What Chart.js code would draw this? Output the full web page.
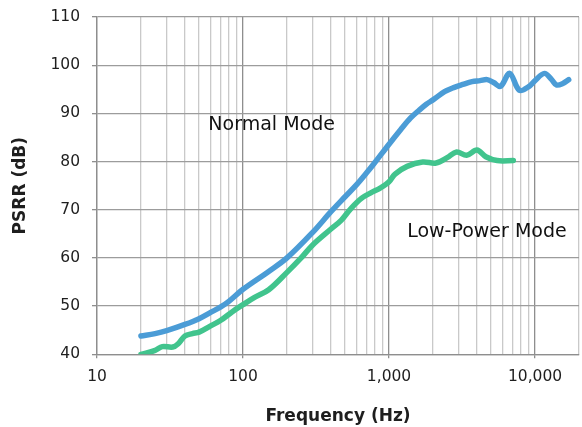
<!DOCTYPE html>
<html>
<head>
<meta charset="utf-8">
<script src="https://cdn.jsdelivr.net/npm/chart.js@4.4.1/dist/chart.umd.min.js"></script>
<style>
	html, body {
		margin: 0;
		padding: 0;
		background: #ffffff;
	}
	#wrap {
		width: 582px;
		height: 427px;
	}
</style>
</head>
<body>
<div id="wrap"><canvas id="psrrChart" width="582" height="427"></canvas></div>
<script>
//////////////////////////////// Data

const normalFreq = [
	20, 25, 30, 40, 50, 60, 70, 80, 100, 150, 200, 300, 400, 500, 600, 700,
	800, 1000, 1200, 1400, 1600, 1800, 2000, 2400, 2800, 3200, 3700, 4200,
	4700, 5200, 5800, 6700, 7800, 9000, 10000, 11600, 13000, 14000, 15500,
	17000,
];
const normalDb = [
	43.8, 44.3, 44.9, 46.2, 47.4, 48.7, 49.8, 51.0, 53.5, 57.2, 60.0, 65.3,
	69.6, 72.7, 75.2, 77.6, 79.8, 83.6, 86.6, 89.0, 90.6, 91.9, 92.8, 94.5,
	95.4, 96.0, 96.6, 96.8, 97.0, 96.4, 95.6, 98.3, 94.8, 95.5, 96.8, 98.3,
	97.0, 95.9, 96.2, 97.0,
];

const lowFreq = [
	20, 25, 28, 33, 36, 40, 45, 50, 60, 70, 85, 100, 120, 150, 200, 250, 300,
	400, 470, 550, 650, 750, 870, 1000, 1100, 1330, 1700, 2100, 2500, 2900,
	3400, 4000, 4600, 5500, 7100,
];
const lowDb = [
	40.0, 40.8, 41.6, 41.5, 42.2, 43.8, 44.3, 44.6, 45.9, 47.0, 48.9, 50.3,
	51.8, 53.4, 57.0, 60.0, 62.7, 66.0, 67.8, 70.3, 72.4, 73.5, 74.5, 75.8,
	77.4, 79.0, 79.9, 79.7, 80.8, 82.0, 81.3, 82.4, 81.0, 80.2, 80.2,
];

// vertical grid lines (Hz)
const freqTicks = [
	10, 20, 30, 40, 50, 60, 70, 80, 90,
	100, 200, 300, 400, 500, 600, 700, 800, 900,
	1000, 2000, 3000, 4000, 5000, 6000, 7000, 8000, 9000,
	10000, 20000,
];
const freqLabels = [10, 100, 1000, 10000];

const modeText = ["Normal Mode", "Low-Power Mode"];
const modeFreq = [157, 4680];
const modeDb = [87.5, 65.4];

//////////////////////////////// Chart

const chartFont = "'DejaVu Sans', sans-serif";
const textColor = "#1e1e1e";

function toPoints(xs, ys) {
	return xs.map((x, i) => ({ x: x, y: ys[i] }));
}

function isDecade(v) {
	return freqLabels.indexOf(v) !== -1;
}

const modeLabelsPlugin = {
	id: "modeLabels",
	afterDatasetsDraw(chart) {
		const ctx = chart.ctx;
		const xs = chart.scales.x;
		const ys = chart.scales.y;
		ctx.save();
		ctx.font = "19px " + chartFont;
		ctx.fillStyle = "#111111";
		ctx.textAlign = "center";
		ctx.textBaseline = "middle";
		for (let i = 0; i < modeText.length; i++) {
			ctx.fillText(
				modeText[i],
				xs.getPixelForValue(modeFreq[i]),
				ys.getPixelForValue(modeDb[i])
			);
		}
		ctx.restore();
	},
};

const psrrData = {
	datasets: [
		{
			label: "Normal Mode",
			data: toPoints(normalFreq, normalDb),
			borderColor: "#4b9cd6",
			borderWidth: 5.5,
			pointRadius: 0,
			tension: 0.35,
			borderCapStyle: "round",
		},
		{
			label: "Low-Power Mode",
			data: toPoints(lowFreq, lowDb),
			borderColor: "#41c48d",
			borderWidth: 5.5,
			pointRadius: 0,
			tension: 0.35,
			borderCapStyle: "round",
		},
	],
};

const psrrOptions = {
	responsive: false,
	animation: false,
	layout: {
		padding: { top: 17, right: 3, left: 0, bottom: 0 },
	},
	plugins: {
		legend: { display: false },
		tooltip: { enabled: false },
	},
	scales: {
		x: {
			type: "logarithmic",
			min: 10,
			max: 20000,
			afterBuildTicks: (scale) => {
				scale.ticks = freqTicks.map((v) => ({ value: v, major: isDecade(v) }));
			},
			afterFit: (scale) => {
				scale.height = 72.7;
				scale.paddingLeft = 0;
				scale.paddingRight = 0;
			},
			grid: {
				color: (c) => (c.tick && isDecade(c.tick.value) ? "#8e8e8e" : "#c9c9c9"),
				lineWidth: 1.3,
				tickLength: 4,
				tickColor: (c) => (c.tick && isDecade(c.tick.value) ? "#8e8e8e" : "rgba(0,0,0,0)"),
			},
			border: { color: "#8e8e8e", width: 1.3 },
			ticks: {
				autoSkip: false,
				maxRotation: 0,
				padding: 9,
				color: textColor,
				font: { family: chartFont, size: 15.5 },
				callback: (value) => (isDecade(value) ? value.toLocaleString("en-US") : ""),
			},
			title: {
				display: true,
				text: "Frequency (Hz)",
				color: textColor,
				font: { family: chartFont, size: 17, weight: "bold" },
				padding: { top: 2, bottom: 0 },
			},
		},
		y: {
			min: 40,
			max: 110,
			afterFit: (scale) => {
				scale.width = 97;
				scale.paddingTop = 0;
				scale.paddingBottom = 0;
			},
			grid: {
				color: "#9c9c9c",
				lineWidth: 1.3,
				tickLength: 5,
				tickColor: "#8e8e8e",
			},
			border: { color: "#8e8e8e", width: 1.3 },
			ticks: {
				stepSize: 10,
				padding: 12,
				color: textColor,
				font: { family: chartFont, size: 15.5 },
			},
			title: {
				display: true,
				text: "PSRR (dB)",
				color: textColor,
				font: { family: chartFont, size: 17, weight: "bold" },
				padding: { top: 10, bottom: 0 },
			},
		},
	},
};

new Chart(document.getElementById("psrrChart"), {
	type: "line",
	data: psrrData,
	options: psrrOptions,
	plugins: [modeLabelsPlugin],
});
</script>
</body>
</html>
